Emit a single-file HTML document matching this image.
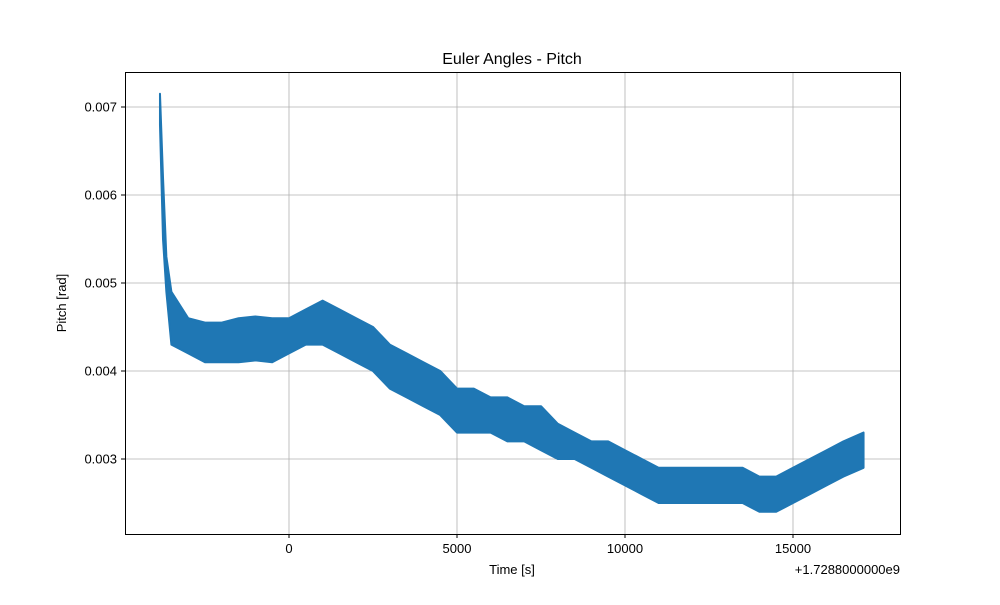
<!DOCTYPE html>
<html><head><meta charset="utf-8"><style>
body{margin:0;background:#fff;}
svg text{font-family:"Liberation Sans","DejaVu Sans",sans-serif;fill:#000;}
</style></head><body>
<svg id="chart" width="1000" height="600" xmlns="http://www.w3.org/2000/svg">
<rect width="1000" height="600" fill="#fff"/>
<g id="grid"></g>
<g id="series"></g>
<rect x="125.5" y="72.5" width="775" height="462" fill="none" stroke="#000" stroke-width="1"/>
<g id="ticks"></g>
<text x="512" y="64" font-size="16" text-anchor="middle">Euler Angles - Pitch</text>
<text x="512" y="574" font-size="13" text-anchor="middle">Time [s]</text>
<text x="900" y="574" font-size="13" text-anchor="end">+1.7288000000e9</text>
<text x="66" y="303" font-size="13" text-anchor="middle" transform="rotate(-90 66 303)">Pitch [rad]</text>
</svg>
<script>
const times=[-3840,-3750,-3650,-3500,-3000,-2500,-2000,-1500,-1000,-500,0,500,1000,1500,2000,2500,3000,3500,4000,4500,5000,5500,6000,6500,7000,7500,8000,8500,9000,9500,10000,10500,11000,11500,12000,12500,13000,13500,14000,14500,15000,15500,16000,16500,17100];
const upper=[0.00715,0.0062,0.0053,0.0049,0.0046,0.00455,0.00455,0.0046,0.00462,0.0046,0.0046,0.0047,0.0048,0.0047,0.0046,0.0045,0.0043,0.0042,0.0041,0.0040,0.0038,0.0038,0.0037,0.0037,0.0036,0.0036,0.0034,0.0033,0.0032,0.0032,0.0031,0.0030,0.0029,0.0029,0.0029,0.0029,0.0029,0.0029,0.0028,0.0028,0.0029,0.0030,0.0031,0.0032,0.0033];
const lower=[0.0068,0.0055,0.0049,0.0043,0.0042,0.0041,0.0041,0.0041,0.00412,0.0041,0.0042,0.0043,0.0043,0.0042,0.0041,0.0040,0.0038,0.0037,0.0036,0.0035,0.0033,0.0033,0.0033,0.0032,0.0032,0.0031,0.0030,0.0030,0.0029,0.0028,0.0027,0.0026,0.0025,0.0025,0.0025,0.0025,0.0025,0.0025,0.0024,0.0024,0.0025,0.0026,0.0027,0.0028,0.0029];
const xTicks=[0,5000,10000,15000];
const xTickLabels=["0","5000","10000","15000"];
const yTicks=[0.003,0.004,0.005,0.006,0.007];
const yTickLabels=["0.003","0.004","0.005","0.006","0.007"];
const NS="http://www.w3.org/2000/svg";
const X=t=>289+(t/5000)*168;
const Y=v=>371-(v-0.004)/0.001*88;
const grid=document.getElementById('grid'),ticks=document.getElementById('ticks'),series=document.getElementById('series');
function mk(tag,attrs,parent){const e=document.createElementNS(NS,tag);for(const k in attrs)e.setAttribute(k,attrs[k]);parent.appendChild(e);return e;}
xTicks.forEach((t,i)=>{const x=X(t);
 const g=mk('line',{x1:x,x2:x,y1:72,y2:534,stroke:'#b0b0b0','stroke-width':0.8},grid);
 
 
 const tk=mk('line',{x1:x,x2:x,y1:534,y2:538,stroke:'#000'},ticks);
 
 
 const tx=mk('text',{x:x,y:553,'font-size':13,'text-anchor':'middle'},ticks);tx.textContent=xTickLabels[i];
 
 
});
yTicks.forEach((v,i)=>{const y=Y(v);
 const g=mk('line',{x1:125,x2:900,y1:y,y2:y,stroke:'#b0b0b0','stroke-width':0.8},grid);
 
 
 const tk=mk('line',{x1:121,x2:125,y1:y,y2:y,stroke:'#000'},ticks);
 
 
 const tx=mk('text',{x:117,y:y+4.5,'font-size':13,'text-anchor':'end'},ticks);tx.textContent=yTickLabels[i];
 
 
});
let pts=[];
times.forEach((t,i)=>pts.push(X(t)+','+Y(upper[i])));
for(let i=times.length-1;i>=0;i--)pts.push(X(times[i])+','+Y(lower[i]));
const band=mk('polygon',{points:pts.join(' '),fill:'#1f77b4',stroke:'#1f77b4','stroke-width':2,'stroke-linejoin':'round'},series);


</script>
</body></html>
